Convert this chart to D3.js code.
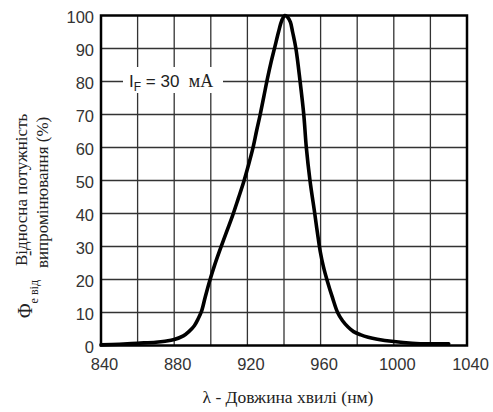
<!DOCTYPE html>
<html>
<head>
<meta charset="utf-8">
<script src="https://cdn.jsdelivr.net/npm/d3@7"></script>
<style>
  html, body { margin: 0; padding: 0; background: #fff; }
  svg { display: block; }
  text { white-space: pre; }
</style>
</head>
<body>
<svg id="chart" width="493" height="412"></svg>
<script>
// Relative spectral emission vs wavelength
const wavelength = [840, 850, 860, 870, 875, 880, 885, 888, 891, 893, 895, 897, 899.5, 902, 904.5, 907,
  910, 912, 915, 918, 920.5, 923, 925, 927, 929, 931, 933, 935, 937, 938.8, 940.5, 942, 943.5, 944.7,
  946.5, 948.8, 950.8, 952.2, 954.2, 956.8, 958.3, 959.8, 961.5, 963.7, 966.5, 969.3, 972, 975, 978, 982, 986,
  991, 1000, 1010, 1020, 1030];
const relPower = [0.2, 0.4, 0.7, 1.0, 1.3, 1.8, 2.9, 4.2, 6.0, 8.0, 10.5, 14.8, 19.8, 24.2, 28.2, 32,
  36.5, 39.5, 44.5, 49.6, 54.5, 59.8, 65, 70, 75.5, 81, 86, 90.5, 95, 98.5, 100, 99.5, 98, 95,
  90, 80, 70, 60, 50, 40, 34, 28.5, 24, 19.5, 14.5, 10, 7.5, 5.6, 4.2, 3.2, 2.5,
  1.9, 1.2, 0.7, 0.5, 0.5];

const xTickLabels = [840, 880, 920, 960, 1000, 1040];
const xGridLines = [860, 880, 900, 920, 940, 960, 980, 1000, 1020];
const yTickLabels = [0, 10, 20, 30, 40, 50, 60, 70, 80, 90, 100];
const yGridLines = [10, 20, 30, 40, 50, 60, 70, 80, 90];

const svg = d3.select("#chart");
const sans = "'Liberation Sans', Arial, sans-serif";
const serif = "'Liberation Serif', 'Times New Roman', serif";

const x = d3.scaleLinear().domain([840, 1040]).range([101, 467]);
const y = d3.scaleLinear().domain([0, 100]).range([345.5, 15.5]);

// grid
const grid = svg.append("g").attr("stroke", "#333").attr("stroke-width", 1.3);
grid.selectAll("line.v").data(xGridLines).join("line")
  .attr("x1", d => x(d)).attr("x2", d => x(d))
  .attr("y1", y(0)).attr("y2", y(100));
grid.selectAll("line.h").data(yGridLines).join("line")
  .attr("x1", x(840)).attr("x2", x(1040))
  .attr("y1", d => y(d)).attr("y2", d => y(d));

// annotation box over grid
svg.append("rect")
  .attr("x", 123).attr("y", 67).attr("width", 100).attr("height", 26)
  .attr("fill", "#fff");
const ann = svg.append("text")
  .attr("x", 129).attr("y", 86.5)
  .attr("font-family", sans).attr("font-size", 17).attr("fill", "#222");
ann.append("tspan").text("I");
ann.append("tspan").attr("font-size", 12).attr("dy", 4).text("F");
ann.append("tspan").attr("dy", -4).text(" = 30  ");
ann.append("tspan").attr("font-family", serif).attr("font-size", 18).text("мА");

// frame
svg.append("rect")
  .attr("x", x(840)).attr("y", y(100))
  .attr("width", x(1040) - x(840)).attr("height", y(0) - y(100))
  .attr("fill", "none").attr("stroke", "#000").attr("stroke-width", 2.5);

// curve
const pts = wavelength.map((w, i) => [w, relPower[i]]);
svg.append("path")
  .datum(pts)
  .attr("fill", "none")
  .attr("stroke", "#000")
  .attr("stroke-width", 3.6)
  .attr("stroke-linejoin", "round")
  .attr("stroke-linecap", "round")
  .attr("d", d3.line().x(d => x(d[0])).y(d => y(d[1])).curve(d3.curveCatmullRom.alpha(0.5)));

// axes labels
const xAxis = svg.append("g")
  .attr("transform", `translate(0,${y(0)})`)
  .call(d3.axisBottom(x).tickValues(xTickLabels).tickSize(0).tickPadding(13).tickFormat(d3.format("d")));
xAxis.select(".domain").remove();
xAxis.selectAll("text").attr("font-family", sans).attr("font-size", 16.5).attr("fill", "#333").attr("dx", 3);

const yAxis = svg.append("g")
  .attr("transform", `translate(${x(840)},0)`)
  .call(d3.axisLeft(y).tickValues(yTickLabels).tickSize(0).tickPadding(7).tickFormat(d3.format("d")));
yAxis.select(".domain").remove();
yAxis.selectAll("text").attr("font-family", sans).attr("font-size", 16.5).attr("fill", "#333").attr("dy", "0.4em");

// x title
svg.append("text")
  .attr("x", 288).attr("y", 403)
  .attr("text-anchor", "middle")
  .attr("font-family", serif).attr("font-size", 17.5).attr("fill", "#222")
  .text("λ - Довжина хвилі (нм)");

// y title (rotated)
const yt = svg.append("g").attr("transform", "rotate(-90)")
  .attr("font-family", serif).attr("fill", "#222");
const phi = yt.append("text").attr("x", -318).attr("y", 32).attr("font-size", 20);
phi.append("tspan").text("Φ");
phi.append("tspan").attr("font-size", 12).attr("dy", 6).text("e від");
yt.append("text").attr("x", -256).attr("y", 35).attr("font-size", 16).text("-");
yt.append("text").attr("x", -266).attr("y", 27).attr("font-size", 17).text("Відносна потужність");
yt.append("text").attr("x", -268).attr("y", 48).attr("font-size", 17).text("випромінювання (%)");
</script>
</body>
</html>
